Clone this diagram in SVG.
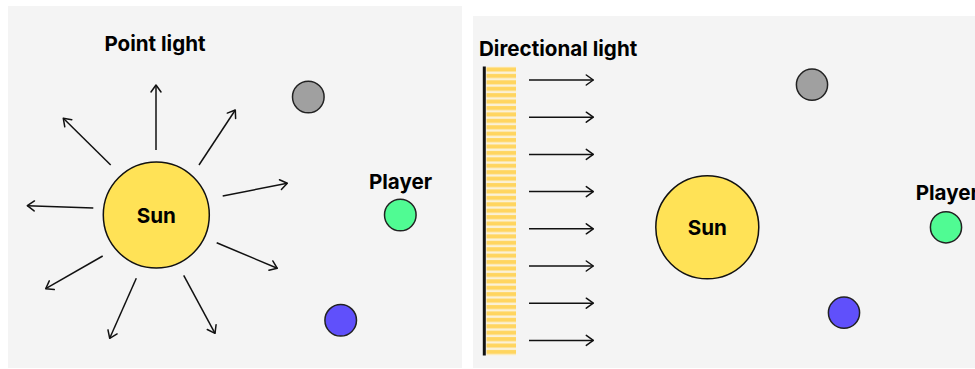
<svg xmlns="http://www.w3.org/2000/svg" width="975" height="369" viewBox="0 0 975 369">
<style>
.panel{fill:#f4f4f4}
.lbl{font-family:Inter,"Liberation Sans",sans-serif;font-weight:700;font-size:20.6px;fill:#000}
.sun{fill:#ffe256;stroke:#111;stroke-width:1.5}
.obj{stroke:#222;stroke-width:1.5}
.ray{stroke:#111;stroke-width:1.5;fill:none;marker-end:url(#ah)}
</style>
<defs>
<marker id="ah" markerUnits="userSpaceOnUse" viewBox="-10 -8 12 16" refX="0" refY="0" markerWidth="12" markerHeight="16" orient="auto" overflow="visible">
<path d="M-7,-5 L0,0 L-7,5" fill="none" stroke="#111" stroke-width="1.5" stroke-linecap="round" stroke-linejoin="round"/>
</marker>
<pattern id="stripes" patternUnits="userSpaceOnUse" x="0" y="66.5" width="10" height="6.42">
<rect x="0" y="0" width="10" height="6.42" fill="#fbf1d6"/>
<rect x="0" y="1" width="10" height="4" fill="#ffd55f"/>
</pattern>
</defs>
<rect width="975" height="369" fill="#ffffff"/>
<g id="point-panel">
<rect class="panel" x="8" y="6" width="454" height="362"/>
<text class="lbl" x="155" y="51" text-anchor="middle">Point light</text>
</g>
<g id="point-sun">
<circle class="sun" cx="156.3" cy="215" r="53"/>
<text class="lbl" x="156.3" y="222.5" text-anchor="middle">Sun</text>
</g>
<g id="point-gray"><circle class="obj" cx="308.3" cy="97" r="15.8" fill="#a0a0a0"/></g>
<g id="point-player">
<text class="lbl" x="400.5" y="189" text-anchor="middle">Player</text>
<circle class="obj" cx="400.3" cy="215" r="15.8" fill="#50fb93"/>
</g>
<g id="point-blue"><circle class="obj" cx="340.7" cy="320.3" r="15.8" fill="#6050fb"/></g>
<g id="point-rays">
<line class="ray" x1="156" y1="150" x2="156" y2="85"/>
<line class="ray" x1="110.7" y1="165" x2="63.3" y2="118.3"/>
<line class="ray" x1="199" y1="165" x2="235.3" y2="110"/>
<line class="ray" x1="222.7" y1="196" x2="287.3" y2="183.3"/>
<line class="ray" x1="93.3" y1="208" x2="27.3" y2="205.7"/>
<line class="ray" x1="216.7" y1="242.7" x2="277.3" y2="268.3"/>
<line class="ray" x1="102.7" y1="256" x2="45.7" y2="288.7"/>
<line class="ray" x1="136.3" y1="278.3" x2="109.7" y2="338.3"/>
<line class="ray" x1="183.7" y1="275.3" x2="215" y2="333.3"/>
</g>
<g id="dir-panel">
<rect class="panel" x="473" y="16" width="502" height="352"/>
<text class="lbl" x="479" y="56">Directional light</text>
</g>
<g id="dir-source">
<rect x="486.5" y="66.5" width="29.5" height="289" fill="url(#stripes)"/>
<line x1="484.3" y1="66.5" x2="484.3" y2="355.5" stroke="#111" stroke-width="3"/>
</g>
<g id="dir-sun">
<circle class="sun" cx="707.3" cy="227.3" r="51.5"/>
<text class="lbl" x="707.3" y="235" text-anchor="middle">Sun</text>
</g>
<g id="dir-gray"><circle class="obj" cx="812" cy="84.7" r="15.6" fill="#a0a0a0"/></g>
<g id="dir-player">
<text class="lbl" x="915.7" y="200">Player</text>
<circle class="obj" cx="946" cy="227.3" r="15.6" fill="#50fb93"/>
</g>
<g id="dir-blue"><circle class="obj" cx="844" cy="312.7" r="15.6" fill="#6050fb"/></g>
<g id="dir-rays">
<line class="ray" x1="529" y1="80" x2="593.3" y2="80"/>
<line class="ray" x1="529" y1="117.2" x2="593.3" y2="117.2"/>
<line class="ray" x1="529" y1="154.4" x2="593.3" y2="154.4"/>
<line class="ray" x1="529" y1="191.6" x2="593.3" y2="191.6"/>
<line class="ray" x1="529" y1="228.8" x2="593.3" y2="228.8"/>
<line class="ray" x1="529" y1="266" x2="593.3" y2="266"/>
<line class="ray" x1="529" y1="303.2" x2="593.3" y2="303.2"/>
<line class="ray" x1="529" y1="340.4" x2="593.3" y2="340.4"/>
</g>
</svg>
